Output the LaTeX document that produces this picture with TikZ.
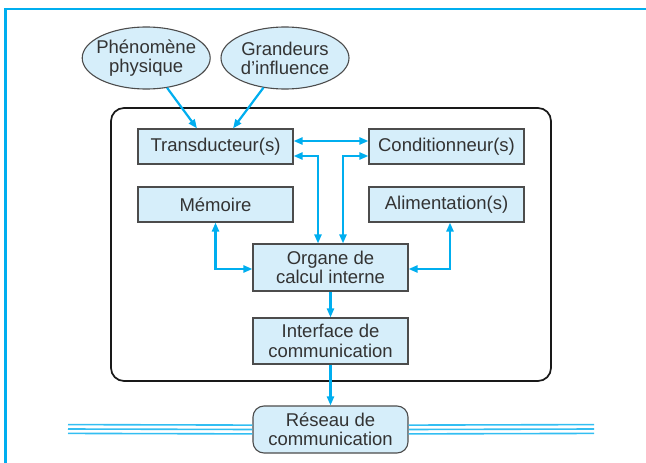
\documentclass[tikz,border=0pt]{standalone}
\usepackage{fontspec}
\setmainfont{Liberation Sans}
\usetikzlibrary{arrows.meta,shapes.geometric}
\definecolor{cyanfil}{HTML}{00AEEF}
\definecolor{bleuclair}{HTML}{D6EEFA}
\definecolor{gristexte}{HTML}{333333}
\tikzstyle{bloc}=[rectangle, draw=black!70, line width=1.1pt, fill=bleuclair,
    text=gristexte, align=center, inner sep=0pt, minimum width=155pt,
    font=\fontsize{18.5}{19.5}\selectfont]
\tikzstyle{bulle}=[ellipse, draw=black!70, line width=1.1pt, fill=bleuclair,
    text=gristexte, align=center, inner xsep=-5pt, inner ysep=-4pt,
    minimum width=128pt, minimum height=62pt,
    font=\fontsize{18.5}{19}\selectfont]
\tikzstyle{flux}=[draw=cyanfil, line width=2.2pt, -{Triangle[length=9pt,width=7pt]}]
\tikzstyle{dflux}=[flux, {Triangle[length=9pt,width=7pt]}-{Triangle[length=9pt,width=7pt]}]
\tikzstyle{bus}=[draw=cyanfil!80, line width=1.6pt]
\newcommand{\bloc}{\node[bloc]}

\begin{document}
\begin{tikzpicture}[x=1pt, y=-1pt]
\useasboundingbox (0,0) rectangle (646,463);
% cadre de la page
\draw[cyanfil, line width=2.5pt] (5.5,463) -- (5.5,9) -- (646,9);
% boitier du capteur
\draw[black!90, line width=1.7pt, rounded corners=13pt] (111,108) rectangle (551,381);

\node[bulle] (phen) at (146.2,58) {Phénomène\\physique};
\node[bulle] (grand) at (285,58) {Grandeurs\\d’influence};

\bloc[minimum height=35pt] (trans) at (215.5,146.5) {Transducteur(s)};
\bloc[minimum height=35pt] (cond) at (446.5,146.5) {Conditionneur(s)};
\bloc[minimum height=35pt] (mem) at (215.5,204.5) {Mémoire};
\bloc[minimum height=35pt] (alim) at (446.5,204.5) {Alimentation(s)};
\bloc[minimum height=47pt] (organe) at (330.5,267.5) {Organe de\\calcul interne};
\bloc[minimum height=46pt] (interf) at (330.5,341) {Interface de\\communication};
\bloc[minimum height=47pt, rounded corners=11pt] (reseau) at (330.5,429.5) {Réseau de\\communication};

% bus de terrain
\coordinate (busG) at (68,429);
\coordinate (busD) at (594,429);
\foreach \dy in {-4.4,0,4.4} {
    \draw[bus] ([yshift=\dy pt]busG) -- ([yshift=\dy pt]reseau.west);
    \draw[bus] ([yshift=\dy pt]reseau.east) -- ([yshift=\dy pt]busD);
}

\path[flux] (phen.-55) -- ([xshift=-18.5pt]trans.north);
\path[flux] (grand.-126) -- ([xshift=17.5pt]trans.north);
\path[dflux] ([yshift=5.5pt]trans.east) -- ([yshift=5.5pt]cond.west);
\path[dflux] ([xshift=-12.5pt]organe.north) |- ([yshift=-9.5pt]trans.east);
\path[dflux] ([xshift=12.5pt]organe.north) |- ([yshift=-9.5pt]cond.west);
\path[dflux] (mem.south) |- ([yshift=-1.5pt]organe.west);
\path[dflux] ([xshift=3.5pt]alim.south) |- ([yshift=-1.5pt]organe.east);
\path[flux] (organe.south) -- (interf.north);
\path[flux] (interf.south) -- (reseau.north);
\end{tikzpicture}
\end{document}
